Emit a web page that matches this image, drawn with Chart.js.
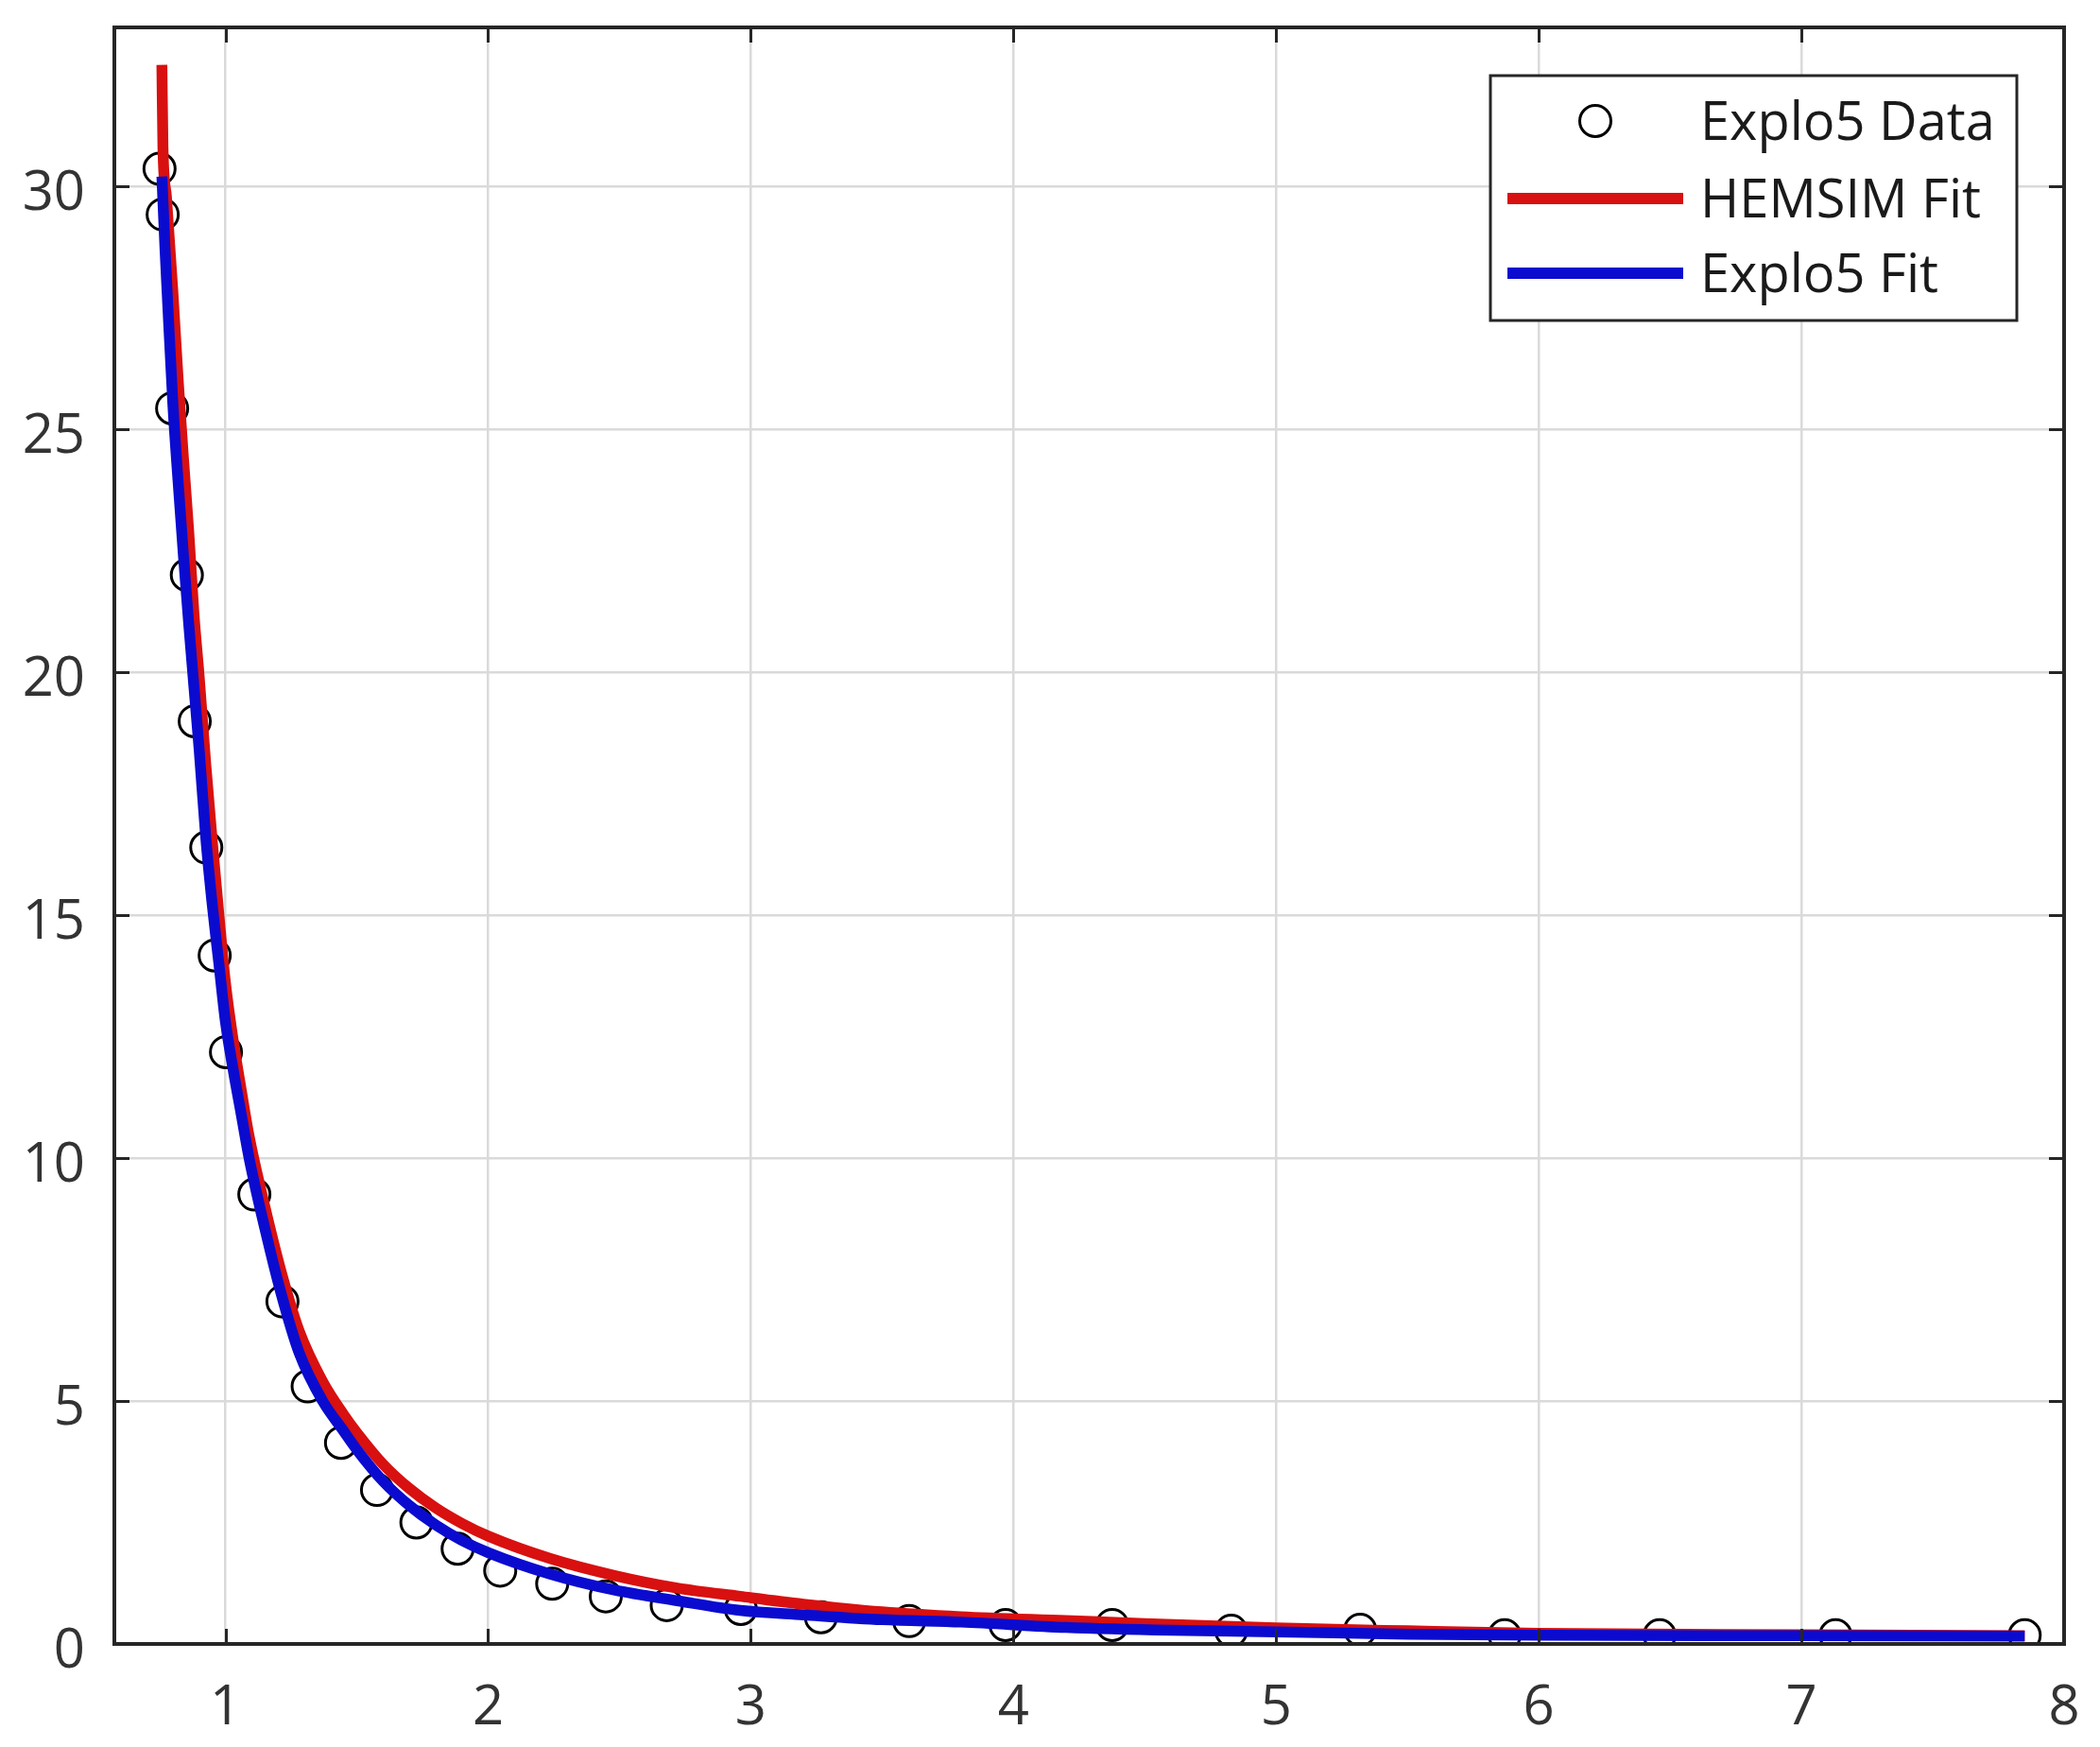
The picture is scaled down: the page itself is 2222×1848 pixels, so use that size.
<!DOCTYPE html>
<html>
<head>
<meta charset="utf-8">
<script src="https://cdn.jsdelivr.net/npm/chart.js@4.4.1/dist/chart.umd.min.js"></script>
<style>
html, body { margin: 0; padding: 0; background: #ffffff; }
#wrap { width: 2222px; height: 1848px; position: relative; }
</style>
</head>
<body>
<div id="wrap"><canvas id="c"></canvas></div>
<script>
// ---- Data ----
const dataX = [0.749, 0.761, 0.797, 0.853, 0.883, 0.927, 0.959, 1.002, 1.110, 1.217, 1.313, 1.440, 1.577, 1.727, 1.884, 2.046, 2.244, 2.448, 2.680, 2.962, 3.267, 3.603, 3.970, 4.376, 4.829, 5.320, 5.870, 6.460, 7.130, 7.850];
const dataY = [30.36, 29.42, 25.43, 22.00, 18.99, 16.39, 14.17, 12.18, 9.25, 7.05, 5.30, 4.14, 3.17, 2.50, 1.96, 1.51, 1.24, 0.98, 0.80, 0.72, 0.55, 0.47, 0.39, 0.39, 0.27, 0.29, 0.18, 0.18, 0.18, 0.18];

const hemsimX = [0.758, 0.762, 0.775, 0.80, 0.82, 0.84, 0.86, 0.88, 0.90, 0.925, 0.95, 0.975, 1.00, 1.03, 1.06, 1.09, 1.15, 1.21, 1.28, 1.37, 1.45, 1.50, 1.60, 1.70, 1.80, 1.90, 2.00, 2.235, 2.48, 2.72, 2.96, 3.20, 3.50, 3.80, 4.20, 4.50, 5.00, 5.50, 6.00, 7.00, 7.85];
const hemsimY = [32.5, 30.8, 29.8, 27.8, 26.0, 24.4, 22.9, 21.2, 19.9, 18.1, 16.5, 15.0, 13.6, 12.4, 11.4, 10.45, 9.0, 7.7, 6.45, 5.4, 4.72, 4.35, 3.70, 3.20, 2.80, 2.48, 2.22, 1.76, 1.41, 1.15, 0.98, 0.82, 0.66, 0.56, 0.48, 0.42, 0.33, 0.27, 0.22, 0.19, 0.17];

const explo5X = [0.758, 0.77, 0.78, 0.80, 0.82, 0.84, 0.86, 0.88, 0.90, 0.925, 0.95, 0.975, 1.00, 1.03, 1.06, 1.09, 1.15, 1.21, 1.28, 1.37, 1.45, 1.50, 1.60, 1.70, 1.80, 1.90, 2.00, 2.235, 2.48, 2.72, 2.96, 3.20, 3.50, 3.80, 4.20, 4.60, 5.00, 5.50, 6.00, 7.00, 7.85];
const explo5Y = [30.2, 28.7, 27.6, 25.5, 23.9, 22.4, 21.0, 19.7, 18.4, 16.6, 15.2, 14.0, 12.8, 11.8, 10.9, 10.0, 8.55, 7.25, 6.0, 5.0, 4.38, 4.0, 3.35, 2.85, 2.45, 2.13, 1.88, 1.44, 1.11, 0.89, 0.69, 0.60, 0.50, 0.45, 0.34, 0.28, 0.25, 0.20, 0.18, 0.17, 0.16];

const xTicks = [1, 2, 3, 4, 5, 6, 7, 8];
const yTicks = [0, 5, 10, 15, 20, 25, 30];
const seriesNames = ['Explo5 Data', 'HEMSIM Fit', 'Explo5 Fit'];

const toPts = (xs, ys) => xs.map((x, i) => ({ x: x, y: ys[i] }));

Chart.defaults.font.family = "'Open Sans', 'Noto Sans', sans-serif";

const RED = '#d81010';
const BLUE = '#0b0bd0';
const AXIS = '#262626';

const framePlugin = {
  id: 'matlabFrame',
  afterDatasetsDraw(chart) {
    const { ctx, chartArea: a, scales } = chart;
    const xs = scales.x, ys = scales.y;
    ctx.save();
    ctx.strokeStyle = AXIS;
    ctx.lineWidth = 3;
    const tl = 16;
    ctx.beginPath();
    xs.ticks.forEach(t => {
      const p = Math.round(xs.getPixelForValue(t.value)) + 0.5;
      ctx.moveTo(p, a.bottom); ctx.lineTo(p, a.bottom - tl);
      ctx.moveTo(p, a.top); ctx.lineTo(p, a.top + tl);
    });
    ys.ticks.forEach(t => {
      const p = Math.round(ys.getPixelForValue(t.value)) + 0.5;
      ctx.moveTo(a.left, p); ctx.lineTo(a.left + tl, p);
      ctx.moveTo(a.right, p); ctx.lineTo(a.right - tl, p);
    });
    ctx.stroke();
    ctx.lineWidth = 4;
    ctx.strokeRect(a.left, a.top, a.right - a.left, a.bottom - a.top);
    ctx.restore();
  },
  afterDraw(chart) {
    const { ctx } = chart;
    const ds = chart.data.datasets;
    // legend box
    const L = 1577, T = 80, R = 2134, B = 339;
    ctx.save();
    ctx.fillStyle = '#ffffff';
    ctx.fillRect(L, T, R - L, B - T);
    ctx.strokeStyle = AXIS;
    ctx.lineWidth = 3;
    ctx.strokeRect(L, T, R - L, B - T);
    const rowsY = [128, 210, 289];
    const lineX0 = 1595, lineX1 = 1781, textX = 1799;
    // row 1: marker
    ctx.beginPath();
    ctx.arc((lineX0 + lineX1) / 2, rowsY[0], ds[0].pointRadius, 0, Math.PI * 2);
    ctx.strokeStyle = ds[0].borderColor;
    ctx.lineWidth = ds[0].borderWidth;
    ctx.stroke();
    // rows 2,3: lines
    [1, 2].forEach(i => {
      ctx.beginPath();
      ctx.moveTo(lineX0, rowsY[i]);
      ctx.lineTo(lineX1, rowsY[i]);
      ctx.strokeStyle = ds[i].borderColor;
      ctx.lineWidth = 12;
      ctx.lineCap = 'butt';
      ctx.stroke();
    });
    ctx.fillStyle = '#1a1a1a';
    ctx.font = "56px 'Open Sans'";
    ctx.textBaseline = 'alphabetic';
    ctx.textAlign = 'left';
    ds.forEach((d, i) => ctx.fillText(d.label, textX, rowsY[i] + 20));
    ctx.restore();
  }
};

new Chart(document.getElementById('c'), {
  type: 'line',
  data: {
    datasets: [
      {
        label: seriesNames[0],
        data: toPts(dataX, dataY),
        showLine: false,
        pointStyle: 'circle',
        pointRadius: 16.5,
        pointHoverRadius: 16.5,
        borderWidth: 3,
        borderColor: '#000000',
        backgroundColor: 'rgba(0,0,0,0)',
        pointBackgroundColor: 'rgba(0,0,0,0)',
        order: 3
      },
      {
        label: seriesNames[1],
        data: toPts(hemsimX, hemsimY),
        borderColor: RED,
        backgroundColor: RED,
        borderWidth: 11.5,
        pointRadius: 0,
        cubicInterpolationMode: 'monotone',
        borderCapStyle: 'butt',
        fill: false,
        order: 2
      },
      {
        label: seriesNames[2],
        data: toPts(explo5X, explo5Y),
        borderColor: BLUE,
        backgroundColor: BLUE,
        borderWidth: 11.5,
        pointRadius: 0,
        cubicInterpolationMode: 'monotone',
        borderCapStyle: 'butt',
        fill: false,
        order: 1
      }
    ]
  },
  options: {
    responsive: true,
    maintainAspectRatio: false,
    devicePixelRatio: 1,
    animation: false,
    events: [],
    layout: { padding: { left: 0, top: 29, right: 38, bottom: 0 } },
    plugins: {
      legend: { display: false },
      tooltip: { enabled: false },
      title: { display: false }
    },
    scales: {
      x: {
        type: 'linear',
        min: 0.577,
        max: 8,
        afterBuildTicks: s => { s.ticks = xTicks.map(v => ({ value: v })); },
        afterFit: s => { s.height = 109; s.paddingLeft = 0; s.paddingRight = 0; s.paddingTop = 0; s.paddingBottom = 0; },
        grid: { color: '#dadada', lineWidth: 2.5, drawTicks: false },
        border: { display: false },
        ticks: {
          padding: 34,
          color: '#333333',
          font: { size: 58 },
          maxRotation: 0,
          autoSkip: false,
          callback: v => String(v)
        }
      },
      y: {
        type: 'linear',
        min: 0,
        max: 33.27,
        afterBuildTicks: s => { s.ticks = yTicks.map(v => ({ value: v })); },
        afterFit: s => { s.width = 121; s.paddingLeft = 0; s.paddingRight = 0; s.paddingTop = 0; s.paddingBottom = 0; },
        grid: { color: '#dadada', lineWidth: 2.5, drawTicks: false },
        border: { display: false },
        ticks: {
          padding: 31,
          labelOffset: 8,
          color: '#333333',
          font: { size: 58 },
          autoSkip: false,
          callback: v => String(v)
        }
      }
    }
  },
  plugins: [framePlugin]
});
</script>
</body>
</html>
